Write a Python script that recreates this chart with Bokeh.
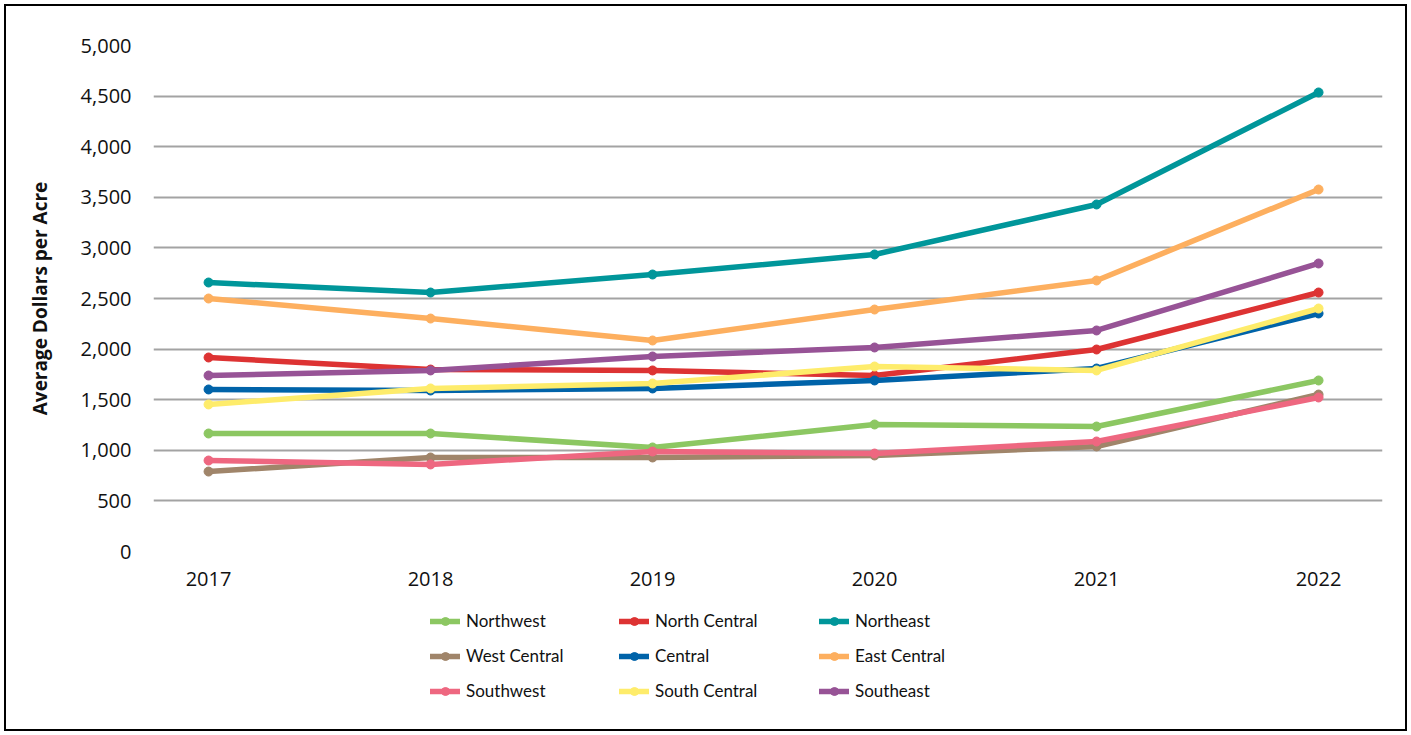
from bokeh.plotting import figure
from bokeh.layouts import column
from bokeh.models import Range1d, FixedTicker, Legend, LegendItem, NumeralTickFormatter
from bokeh.embed import file_html
from bokeh.resources import INLINE

years = [2017, 2018, 2019, 2020, 2021, 2022]
northwest = [1166, 1166, 1028, 1255, 1235, 1690]
north_central = [1917, 1798, 1789, 1739, 1996, 2559]
northeast = [2658, 2559, 2737, 2935, 3429, 4536]
west_central = [790, 929, 929, 949, 1038, 1551]
central = [1601, 1591, 1611, 1690, 1808, 2352]
east_central = [2500, 2302, 2085, 2391, 2678, 3577]
southwest = [899, 860, 988, 968, 1087, 1522]
south_central = [1453, 1611, 1660, 1828, 1789, 2401]
southeast = [1739, 1789, 1927, 2016, 2184, 2846]

series_names = ["Northwest", "North Central", "Northeast",
                "West Central", "Central", "East Central",
                "Southwest", "South Central", "Southeast"]
series_values = [northwest, north_central, northeast,
                 west_central, central, east_central,
                 southwest, south_central, southeast]
series_colors = ["#8CC762", "#DD3333", "#00969A",
                 "#A0856A", "#0063A9", "#FDAF5F",
                 "#EE6780", "#FEEC6B", "#975396"]
y_ticks = [0, 500, 1000, 1500, 2000, 2500, 3000, 3500, 4000, 4500, 5000]

FONT = "Open Sans"

# main chart
p = figure(width=1411, height=600, output_backend="svg", toolbar_location=None,
           x_range=Range1d(2016.752, 2022.288), y_range=Range1d(0, 5000),
           min_border_left=153, min_border_right=29, min_border_top=45,
           min_border_bottom=49)
p.outline_line_color = None
p.background_fill_alpha = 0
p.border_fill_alpha = 0

p.xgrid.grid_line_color = None
p.ygrid.grid_line_color = "#A3A3A3"
p.ygrid.grid_line_width = 2

p.yaxis.ticker = FixedTicker(ticks=y_ticks)
p.yaxis.formatter = NumeralTickFormatter(format="0,0")
p.xaxis.ticker = FixedTicker(ticks=years)
p.xaxis.formatter = NumeralTickFormatter(format="0")
for ax in (p.xaxis[0], p.yaxis[0]):
    ax.axis_line_color = None
    ax.major_tick_line_color = None
    ax.minor_tick_line_color = None
    ax.major_tick_out = 0
    ax.major_tick_in = 0
    ax.major_label_text_font = FONT
    ax.major_label_text_font_size = "20px"
    ax.major_label_text_color = "#111111"
p.yaxis.major_label_standoff = 22
p.xaxis.major_label_standoff = 20
p.yaxis.axis_label = "Average Dollars per Acre"
p.yaxis.axis_label_text_font = FONT
p.yaxis.axis_label_text_font_style = "bold"
p.yaxis.axis_label_text_font_size = "19px"
p.yaxis.axis_label_text_color = "#111111"
p.yaxis.axis_label_standoff = 25

for name, vals, col in zip(series_names, series_values, series_colors):
    p.line(years, vals, line_color=col, line_width=5.5, line_cap="round", line_join="round")
    p.scatter(years, vals, size=9, fill_color=col, line_color=col)

# legend strip (same series, drawn outside its visible range so only the legend shows)
q = figure(width=1411, height=135, output_backend="svg", toolbar_location=None,
           x_range=Range1d(2016.752, 2022.288), y_range=Range1d(-20000, -10000),
           x_axis_type=None, y_axis_type=None,
           min_border_left=0, min_border_right=0, min_border_top=0, min_border_bottom=0)
q.outline_line_color = None
q.grid.grid_line_color = None
q.background_fill_alpha = 0
q.border_fill_alpha = 0

items = []
for name, vals, col in zip(series_names, series_values, series_colors):
    ln = q.line(years, vals, line_color=col, line_width=5.5, line_cap="round")
    sc = q.scatter(years, vals, size=9, fill_color=col, line_color=col)
    items.append(LegendItem(label=name, renderers=[ln, sc]))

col_x = [277, 466, 666]
for c in range(3):
    lg = Legend(items=[items[c], items[c + 3], items[c + 6]],
                location=(col_x[c], 34),
                glyph_width=30, glyph_height=20, label_height=20,
                label_standoff=6, spacing=14, padding=0, margin=0,
                border_line_color=None, background_fill_alpha=0,
                label_text_font="Lato", label_text_font_size="17px",
                label_text_color="#111111")
    q.add_layout(lg, "center")

layout = column(p, q, spacing=0,
                styles={"outline": "2px solid black", "outline-offset": "-6px",
                        "background-color": "white"})

open("out.html", "w").write(file_html(layout, INLINE))
